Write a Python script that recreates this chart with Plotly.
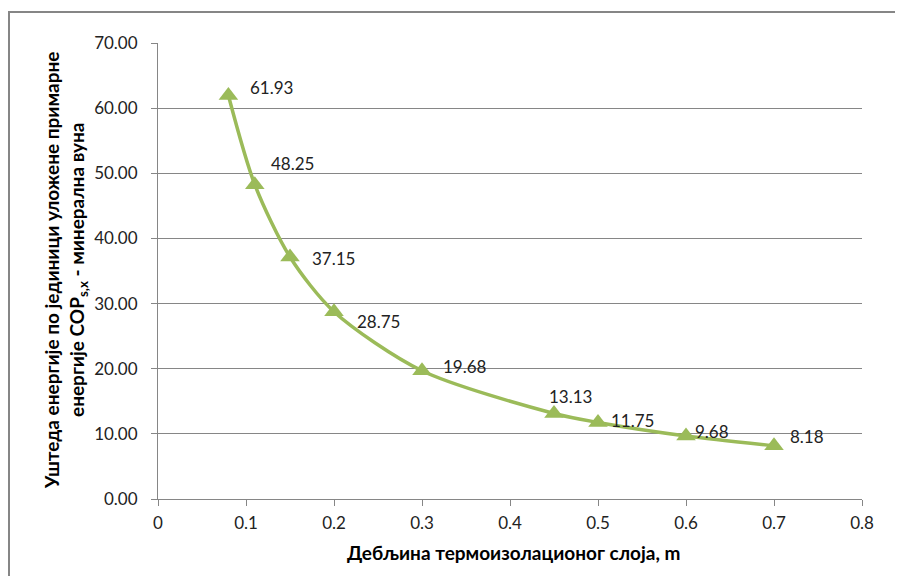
import plotly.graph_objects as go

thickness = [0.08, 0.11, 0.15, 0.2, 0.3, 0.45, 0.5, 0.6, 0.7]
cop_values = [61.93, 48.25, 37.15, 28.75, 19.68, 13.13, 11.75, 9.68, 8.18]
y_ticks = [0, 10, 20, 30, 40, 50, 60, 70]
x_ticks = [0, 0.1, 0.2, 0.3, 0.4, 0.5, 0.6, 0.7, 0.8]

# label offsets in pixels (dx, dy; dy positive = down) relative to each point
label_dx = [43, 38, 43, 44, 43, 16, 34, 26, 33]
label_dy = [-8, -21, 2, 10, -4, -17, -2, -4, -9]

FONT = "Lato"
green = "#9BBB59"
grid = "#868686"

# page -> paper helpers (plot area spans page x 158..862, y 43..499)
def px(x):
    return (x - 158) / 704

def py(y):
    return (499 - y) / 456

fig = go.Figure()
fig.add_trace(go.Scatter(
    x=thickness, y=cop_values, mode="lines+markers",
    line=dict(color=green, width=3.5, shape="spline", smoothing=0.8),
    marker=dict(symbol="triangle-up", size=17, color=green),
    hoverinfo="x+y", showlegend=False,
))

for x, y, dx, dy in zip(thickness, cop_values, label_dx, label_dy):
    fig.add_annotation(x=x, y=y, text=f"{y:.2f}", showarrow=False,
                       xshift=dx, yshift=-dy,
                       font=dict(family=FONT, size=17, color="#222222"))

fig.add_annotation(
    xref="paper", yref="paper", x=px(65), y=py(271),
    text="<b>Уштеда енергије по јединици уложене примарне<br>енергије COP<sub>s,x</sub> - минерална вуна</b>",
    textangle=-90, showarrow=False, xanchor="center", yanchor="middle",
    font=dict(family=FONT, size=19, color="#000000"))

fig.add_annotation(
    xref="paper", yref="paper", x=px(513), y=py(552),
    text="<b>Дебљина термоизолационог слоја, m</b>",
    showarrow=False, xanchor="center", yanchor="middle",
    font=dict(family=FONT, size=19, color="#000000"))

# outer chart border
fig.add_shape(type="rect", xref="paper", yref="paper",
              x0=px(9), x1=2, y0=-1, y1=py(12),
              line=dict(color="#868686", width=2))

fig.update_layout(
    width=903, height=576,
    margin=dict(l=150, r=49, t=35, b=85),
    paper_bgcolor="white", plot_bgcolor="white",
    font=dict(family=FONT, size=17, color="#222222"),
)
fig.update_xaxes(
    range=[0, 0.8], tickvals=x_ticks, ticktext=[f"{v:g}" for v in x_ticks],
    showgrid=False, zeroline=False,
    showline=True, linecolor=grid, linewidth=1,
    ticks="outside", ticklen=6, tickcolor=grid, ticklabelstandoff=3,
    tickfont=dict(family=FONT, size=17, color="#222222"),
)
fig.update_yaxes(
    range=[0, 70], tickvals=y_ticks, ticktext=[f"{v:.2f}" for v in y_ticks],
    showgrid=True, gridcolor=grid, gridwidth=1, zeroline=False,
    showline=True, linecolor=grid, linewidth=1,
    ticks="outside", ticklen=6, tickcolor=grid, ticklabelstandoff=10,
    tickfont=dict(family=FONT, size=17, color="#222222"),
)

fig.write_html("out.html")
